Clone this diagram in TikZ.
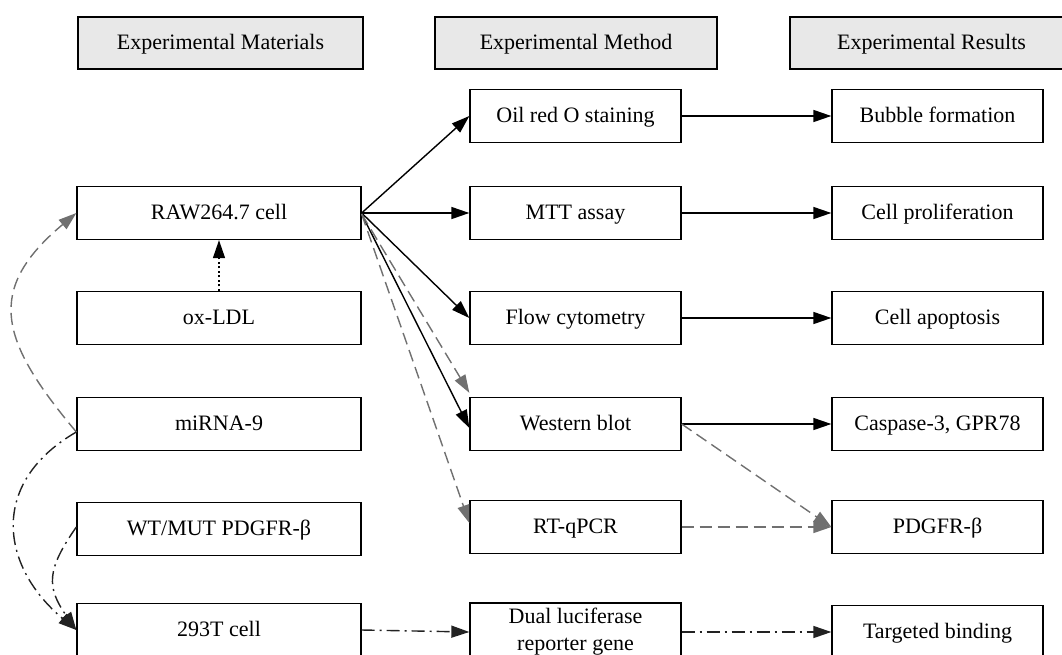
\documentclass[tikz,border=0pt]{standalone}
\usepackage{fontspec}
\setmainfont{Liberation Serif}
\usetikzlibrary{arrows.meta}

\definecolor{headgray}{HTML}{E8E8E8}
\definecolor{linegray}{HTML}{707070}
\definecolor{chainblack}{HTML}{222222}

\begin{document}
\begin{tikzpicture}[x=1pt, y=1pt,
    box/.style={draw, line width=1.3pt, minimum height=53pt, inner sep=2pt,
                font=\fontsize{22}{27}\selectfont, align=center},
    linebox/.style={box, text height=15pt, text depth=1.5pt},
    headbox/.style={linebox, fill=headgray, minimum height=52pt},
    matbox/.style={linebox, minimum width=284pt},
    smallbox/.style={linebox, minimum width=211pt},
    twobox/.style={box, minimum width=211pt, minimum height=58pt},
    arr/.style={-{Triangle[length=18pt,width=12pt]}, line width=1.4pt},
    grayarr/.style={arr, draw=linegray, dash pattern=on 12pt off 6pt},
    dotarr/.style={arr, dash pattern=on 2pt off 2.5pt},
    chainarr/.style={arr, draw=chainblack,
                     dash pattern=on 13pt off 5pt on 2pt off 5pt}]

    \useasboundingbox (0,0) rectangle (1062,-654);

    % Column centres
    \def\colA{219}
    \def\colB{575.5}
    \def\colC{937.5}

    % Headers
    \node[headbox, minimum width=285pt] (hmat) at (220.5,-43) {Experimental Materials};
    \node[headbox, minimum width=282pt] (hmeth) at (576,-43) {Experimental Method};
    \node[headbox, minimum width=283pt] (hres) at (931.5,-43) {Experimental Results};

    % Materials
    \node[matbox] (raw) at (\colA,-213) {RAW264.7 cell};
    \node[matbox] (oxldl) at (\colA,-318) {ox-LDL};
    \node[matbox] (mirna) at (\colA,-424) {miRNA-9};
    \node[matbox] (wtmut) at (\colA,-529) {WT/MUT PDGFR-β};
    \node[matbox] (cell293) at (\colA,-630) {293T cell};

    % Methods
    \node[smallbox] (oil) at (\colB,-116) {Oil red O staining};
    \node[smallbox] (mtt) at (\colB,-213) {MTT assay};
    \node[smallbox] (flow) at (\colB,-318) {Flow cytometry};
    \node[smallbox] (western) at (\colB,-424) {Western blot};
    \node[smallbox] (rtq) at (\colB,-527) {RT-qPCR};
    \node[twobox] (dual) at (\colB,-632) {Dual luciferase\\reporter gene};

    % Results
    \node[smallbox] (bubble) at (\colC,-116) {Bubble formation};
    \node[smallbox] (prolif) at (\colC,-213) {Cell proliferation};
    \node[smallbox] (apopt) at (\colC,-318) {Cell apoptosis};
    \node[smallbox] (casp) at (\colC,-424) {Caspase-3, GPR78};
    \node[smallbox] (pdgfr) at (\colC,-527) {PDGFR-β};
    \node[smallbox] (target) at (\colC,-632) {Targeted binding};

    % RAW264.7 cell to methods
    \draw[arr] (raw.east) -- (oil.west);
    \draw[arr] (raw.east) -- (mtt.west);
    \draw[arr] (raw.east) -- (flow.west);
    \draw[arr] ([yshift=-1pt]raw.east) -- ([yshift=-4pt]western.west);
    \draw[grayarr] ([yshift=-1pt]raw.east) -- ([yshift=4pt]western.north west);
    \draw[grayarr] ([yshift=-1pt]raw.east) -- ([yshift=4pt]rtq.west);
    \draw[dotarr] (oxldl.north) -- (raw.south);

    % Methods to results
    \draw[arr] (oil.east) -- (bubble.west);
    \draw[arr] (mtt.east) -- (prolif.west);
    \draw[arr] (flow.east) -- (apopt.west);
    \draw[arr] (western.east) -- (casp.west);
    \draw[grayarr] (western.east) -- (pdgfr.west);
    \draw[grayarr] (rtq.east) -- (pdgfr.west);
    \draw[chainarr] (cell293.east) -- (dual.west);
    \draw[chainarr] (dual.east) -- (target.west);

    % miRNA-9 and PDGFR-beta curves
    \draw[grayarr] ([yshift=-8pt]mirna.west) to[out=130, in=220, looseness=1.4] (raw.west);
    \draw[chainarr] ([yshift=-8pt]mirna.west) to[out=210, in=140, looseness=1.3] (cell293.west);
    \draw[chainarr] ([yshift=2pt]wtmut.west) to[out=235, in=125, looseness=1.3] (cell293.west);

\end{tikzpicture}
\end{document}
